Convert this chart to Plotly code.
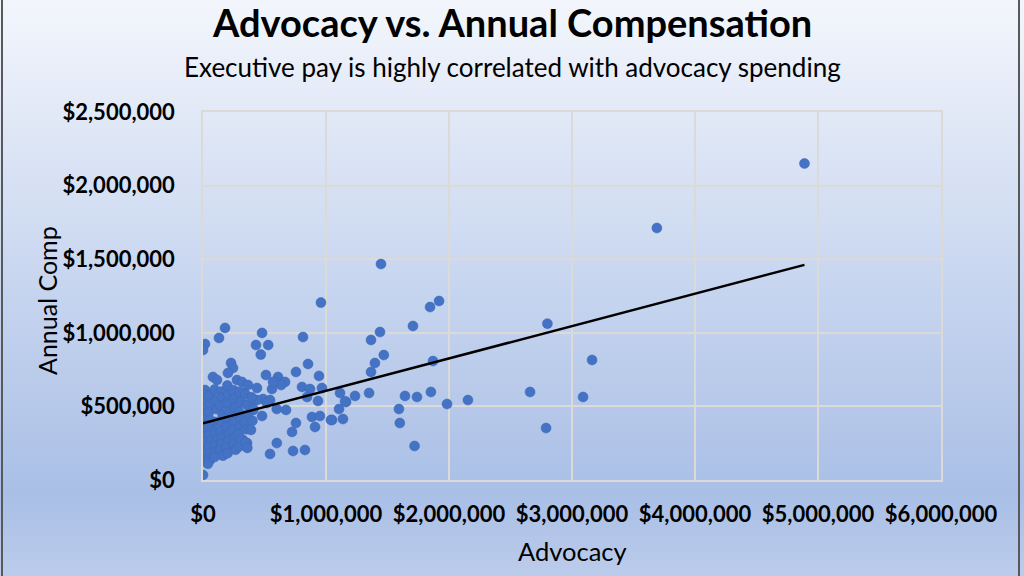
import numpy as np
import plotly.graph_objects as go

# advocacy spending and annual compensation, in thousands of dollars
advocacy_k = [
    4890, 3690, 2800, 3163, 3090, 2789, 2659, 2154, 1984, 1919, 1846, 1707,
    1870, 1853, 1740, 1642, 1593, 1600, 1720, 1447, 1439, 1470, 1366, 1398,
    1366, 1114, 1236, 1350, 1163, 1106, 1049, 1138, 959, 1155,
    480, 530, 470, 813, 854, 756, 943, 512, 610, 590, 667, 635, 561, 805,
    870, 967, 846, 935, 488, 545, 600, 675, 480, 886, 951, 1040, 911, 756,
    724, 600, 545, 732, 829,
    179, 130, 16, 0, 431, 228, 244, 203, 81, 114, 276, 317, 366, 439, 569,
    16, 16, 57, 98, 0, 220, 203, 244, 325, 276, 439, 382, 520, 407,
    0, 0, 33, 0, 16, 41, 57, 0, 114, 138, 195, 244, 163, 98, 325, 358, 301,
    220, 276, 358, 163, 98, 81,
    4, 12, 0, 18, 6, 14, 2, 20, 8, 15, 3, 22,
    45, 55, 48, 60, 42, 52, 64, 47, 58, 50, 40,
    95, 105, 110, 100, 112, 98, 104, 94,
    148, 155, 142, 160, 152, 145, 158, 150, 140, 162,
    198, 205, 192, 210, 200, 195, 212, 204, 190, 200,
    248, 255, 262, 245, 252, 240, 258, 250, 265,
    298, 305, 292, 310, 300, 290, 305, 295,
    345, 355, 362, 340, 350, 345, 360,
    395, 410, 402, 390,
]
annual_comp_k = [
    2150, 1712, 1062, 815, 564, 353, 598, 543, 516, 1216, 1175, 1046,
    808, 598, 564, 571, 482, 387, 231, 1467, 1005, 849, 951, 795,
    734, 591, 571, 591, 530, 482, 408, 414, 1205, 535,
    999, 917, 852, 971, 788, 734, 707, 713, 700, 666, 666, 645, 618, 632,
    618, 625, 564, 537, 550, 543, 482, 476, 435, 428, 435, 408, 360, 387,
    326, 251, 177, 197, 204,
    1033, 965, 924, 883, 917, 795, 761, 727, 700, 679, 679, 666, 645, 625, 666,
    611, 564, 577, 543, 523, 611, 557, 530, 591, 496, 543, 496, 523, 476,
    455, 394, 340, 292, 224, 183, 136, 34, 319, 258, 292, 251, 190, 190, 272, 251, 360,
    374, 408, 442, 428, 394, 340,
    580, 535, 490, 452, 410, 372, 332, 293, 255, 215, 175, 132,
    565, 512, 458, 405, 352, 305, 262, 222, 182, 140, 110,
    615, 545, 482, 322, 272, 232, 192, 156,
    600, 558, 505, 442, 385, 332, 290, 245, 202, 165,
    642, 580, 520, 465, 412, 362, 310, 265, 222, 182,
    610, 552, 492, 432, 390, 340, 290, 242, 205,
    600, 530, 462, 410, 362, 312, 272, 228,
    582, 512, 442, 392, 345, 252, 218,
    562, 482, 402, 340,
]

x_ticks = [0, 1000000, 2000000, 3000000, 4000000, 5000000, 6000000]
y_ticks = [0, 500000, 1000000, 1500000, 2000000, 2500000]

x = np.array(advocacy_k) * 1000
y = np.array(annual_comp_k) * 1000

# linear trendline like Excel's
slope, intercept = np.polyfit(x, y, 1)
trend_x = np.array([x.min(), x.max()])
trend_y = slope * trend_x + intercept

fig = go.Figure()
fig.add_trace(go.Scatter(
    x=x, y=y, mode="markers",
    marker=dict(color="#4472C4", size=10, line=dict(color="#3F69B5", width=0.5)),
    hoverinfo="x+y", showlegend=False,
))
fig.add_trace(go.Scatter(
    x=trend_x, y=trend_y, mode="lines",
    line=dict(color="black", width=2.5), showlegend=False,
))

# plot area in pixels: left 203, right 941, top 112, bottom 480
W, H = 1024, 576
L, R, T, B = 203, 83, 112, 96
pw, ph = W - L - R, H - T - B


def px(v):
    return (v - L) / pw


def py(v):
    return (H - B - v) / ph


# background gradient (Excel style), drawn as thin strips
stops = [(0.0, (243, 246, 252)), (0.5, (199, 213, 239)), (0.86, (169, 191, 230)), (1.0, (188, 204, 235))]


def grad(t):
    for (t0, c0), (t1, c1) in zip(stops[:-1], stops[1:]):
        if t <= t1:
            f = (t - t0) / (t1 - t0)
            return "rgb(%d,%d,%d)" % tuple(round(a + (b - a) * f) for a, b in zip(c0, c1))
    return "rgb(%d,%d,%d)" % stops[-1][1]


shapes = []
n = 72
for i in range(n):
    top = i * H / n
    bot = (i + 1) * H / n + 0.8
    shapes.append(dict(type="rect", xref="paper", yref="paper", layer="below",
                       x0=px(0), x1=px(W), y0=py(bot), y1=py(top),
                       fillcolor=grad((i + 0.5) / n), line=dict(width=0)))
for xb in (2, 1019):
    shapes.append(dict(type="line", xref="paper", yref="paper", x0=px(xb), x1=px(xb),
                       y0=py(0), y1=py(H), line=dict(color="#595959", width=2)))

axis_common = dict(
    showgrid=True, gridcolor="#DCDAD6", gridwidth=1.5,
    showline=True, linecolor="#DCDAD6", linewidth=1.5, mirror=True,
    zeroline=False, tickformat="$,.0f", ticks="",
    tickfont=dict(family="Lato", size=22, color="black", weight="bold"),
)


def label(text, x0, y0, size, angle=0):
    return dict(text=text, xref="paper", yref="paper", x=px(x0), y=py(y0),
                xanchor="center", yanchor="middle", textangle=angle, showarrow=False,
                font=dict(family="Lato", size=size, color="black"))


fig.update_layout(
    width=W, height=H,
    margin=dict(l=L, r=R, t=T, b=B),
    paper_bgcolor="#C7D5EF", plot_bgcolor="rgba(0,0,0,0)",
    xaxis=dict(range=[0, 6000000], tickvals=x_ticks, ticklabelstandoff=14, **axis_common),
    yaxis=dict(range=[0, 2500000], tickvals=y_ticks, ticklabelstandoff=22, **axis_common),
    shapes=shapes,
    annotations=[
        label("<b>Advocacy vs. Annual Compensation</b>", 512, 22, 38),
        label("Executive pay is highly correlated with advocacy spending", 512, 67, 26),
        label("Advocacy", 572, 551, 25.5),
        label("Annual Comp", 47, 301, 25, -90),
    ],
)

# drop the page's default body margin so the chart fills the window
fig.write_html("out.html", config={"displayModeBar": False},
               post_script="document.body.style.margin='0';")
